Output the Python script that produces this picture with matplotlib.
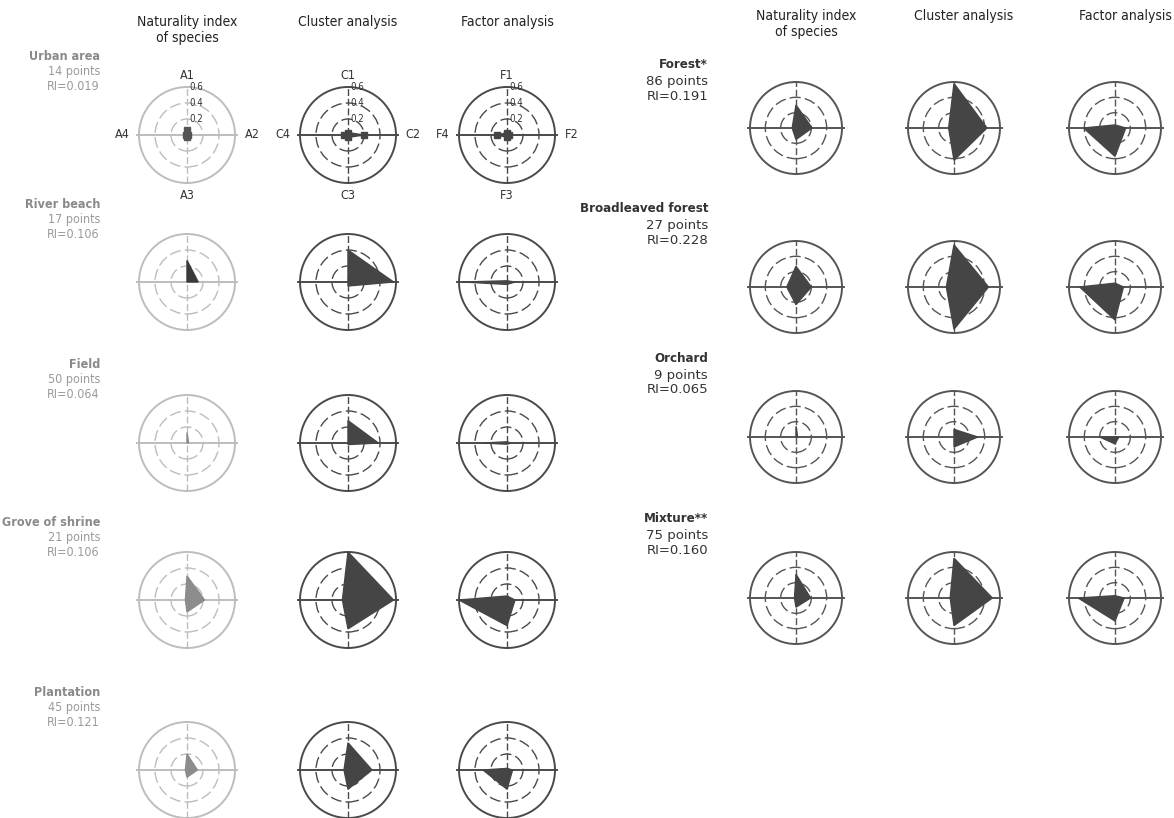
import numpy as np
import matplotlib.pyplot as plt
from matplotlib.patches import Circle

plt.rcParams['font.family'] = ['DejaVu Sans']
plt.rcParams['font.stretch'] = 'condensed'

W, H = 1174, 818

methods = ["Naturality index\nof species", "Cluster analysis", "Factor analysis"]
axis_letters = ["A", "C", "F"]
ring_values = [0.2, 0.4, 0.6]

left_names = ["Urban area", "River beach", "Field", "Grove of shrine", "Plantation"]
left_points = [14, 17, 50, 21, 45]
left_ri = ["0.019", "0.106", "0.064", "0.106", "0.121"]

right_names = ["Forest*", "Broadleaved forest", "Orchard", "Mixture**"]
right_points = [86, 27, 9, 75]
right_ri = ["0.191", "0.228", "0.065", "0.160"]

# values on axes 1 (top), 2 (right), 3 (bottom), 4 (left)
left_naturality = [[0.06, 0.01, 0.02, 0.01],
                   [0.27, 0.14, 0.00, 0.00],
                   [0.13, 0.02, 0.00, 0.00],
                   [0.30, 0.22, 0.15, 0.02],
                   [0.20, 0.13, 0.09, 0.02]]
left_cluster = [[0.03, 0.20, 0.03, 0.05],
                [0.40, 0.57, 0.05, 0.00],
                [0.28, 0.38, 0.02, 0.00],
                [0.60, 0.57, 0.36, 0.07],
                [0.34, 0.30, 0.24, 0.05]]
left_factor = [[0.03, 0.03, 0.03, 0.12],
               [0.015, 0.10, 0.03, 0.55],
               [0.015, 0.05, 0.015, 0.30],
               [0.05, 0.10, 0.32, 0.60],
               [0.02, 0.07, 0.24, 0.30]]
right_naturality = [[0.30, 0.21, 0.15, 0.05],
                    [0.27, 0.20, 0.23, 0.12],
                    [0.14, 0.02, 0.00, 0.00],
                    [0.31, 0.19, 0.12, 0.02]]
right_cluster = [[0.58, 0.43, 0.42, 0.07],
                 [0.55, 0.45, 0.55, 0.10],
                 [0.10, 0.31, 0.13, 0.00],
                 [0.52, 0.50, 0.36, 0.05]]
right_factor = [[0.04, 0.14, 0.37, 0.41],
                [0.05, 0.11, 0.43, 0.46],
                [0.00, 0.05, 0.09, 0.20],
                [0.03, 0.12, 0.30, 0.48]]

LIM = 0.68
# axis directions: 1 up, 2 right, 3 down, 4 left
dir_x = np.array([0, 1, 0, -1])
dir_y = np.array([1, 0, -1, 0])


def radar(fig, cx, cy, rad, values, line_col, fill_col, letter=None, markers=False):
    s = 2 * rad * LIM / 0.6
    ax = fig.add_axes([(cx - s / 2) / W, 1 - (cy + s / 2) / H, s / W, s / H])
    ax.set_xlim(-LIM, LIM)
    ax.set_ylim(-LIM, LIM)
    ax.set_aspect('equal')
    ax.axis('off')
    for rv in ring_values:
        ls = '-' if rv == 0.6 else (0, (8, 3))
        lw = 1.4 if rv == 0.6 else 1.0
        ax.add_patch(Circle((0, 0), rv, fill=False, ec=line_col, lw=lw, ls=ls))
    ax.plot([-0.62, 0.62], [0, 0], color=line_col, lw=1.4)
    ax.plot([0, 0], [-0.6, 0.6], color=line_col, lw=1.0, ls=(0, (5, 2)))
    v = np.asarray(values)
    px = v * dir_x
    py = v * dir_y
    ax.fill(px, py, facecolor=fill_col, edgecolor=fill_col, lw=1.0, zorder=3)
    if markers:
        ax.plot(px, py, 's', color=fill_col, ms=4, zorder=4)
    if letter:
        kw = dict(fontsize=9, color='#333', clip_on=False)
        ax.text(0, 0.66, letter + "1", ha='center', va='bottom', **kw)
        ax.text(0.72, 0, letter + "2", ha='left', va='center', **kw)
        ax.text(0, -0.68, letter + "3", ha='center', va='top', **kw)
        ax.text(-0.72, 0, letter + "4", ha='right', va='center', **kw)
        for rv in ring_values:
            ax.annotate("%.1f" % rv, xy=(0, rv), xytext=(2, 0), textcoords='offset points',
                        ha='left', va='center', fontsize=7, color='#333')
    return ax


fig = plt.figure(figsize=(W / 100, H / 100), dpi=100)

left_x = [187, 348, 507]
left_y = [135, 282, 443, 600, 770]
right_x = [796, 954, 1115]
right_y = [128, 287, 437, 598]

# column headers
for x, m in zip(left_x, methods):
    fig.text(x / W, 1 - 15 / H, m, ha='center', va='top', fontsize=10, color='#222',
             linespacing=1.2)
for x, m in zip(right_x, methods):
    fig.text((x + 10) / W, 1 - 9 / H, m, ha='center', va='top', fontsize=10, color='#222',
             linespacing=1.2)

left_nat_fill = ['#555555', '#3a3a3a', '#8a8a8a', '#8c8c8c', '#8c8c8c']
left_data = [left_naturality, left_cluster, left_factor]
for i in range(len(left_names)):
    cy = left_y[i]
    ty = cy - 78
    fig.text(100 / W, 1 - ty / H, left_names[i], ha='right', va='center',
             fontsize=9, color='#8a8a8a', fontweight='bold')
    fig.text(100 / W, 1 - (ty + 15) / H, "%d points" % left_points[i], ha='right',
             va='center', fontsize=9, color='#9a9a9a')
    fig.text(100 / W, 1 - (ty + 30) / H, "RI=" + left_ri[i], ha='right',
             va='center', fontsize=9, color='#9a9a9a')
    for j in range(3):
        line_col = '#bdbdbd' if j == 0 else '#4a4a4a'
        fill_col = left_nat_fill[i] if j == 0 else '#454545'
        letter = axis_letters[j] if i == 0 else None
        radar(fig, left_x[j], cy, 48, left_data[j][i], line_col, fill_col,
              letter=letter, markers=(i == 0))

right_data = [right_naturality, right_cluster, right_factor]
right_text_y = [65, 209, 359, 519]
for i in range(len(right_names)):
    ty = right_text_y[i]
    fig.text(708 / W, 1 - ty / H, right_names[i], ha='right', va='center',
             fontsize=9.5, color='#333', fontweight='bold')
    fig.text(708 / W, 1 - (ty + 16) / H, "%d points" % right_points[i], ha='right',
             va='center', fontsize=9.5, color='#333', stretch='normal')
    fig.text(708 / W, 1 - (ty + 31) / H, "RI=" + right_ri[i], ha='right',
             va='center', fontsize=9.5, color='#333', stretch='normal')
    for j in range(3):
        radar(fig, right_x[j], right_y[i], 46, right_data[j][i], '#555555', '#454545')

fig.savefig("out.png", dpi=100)
